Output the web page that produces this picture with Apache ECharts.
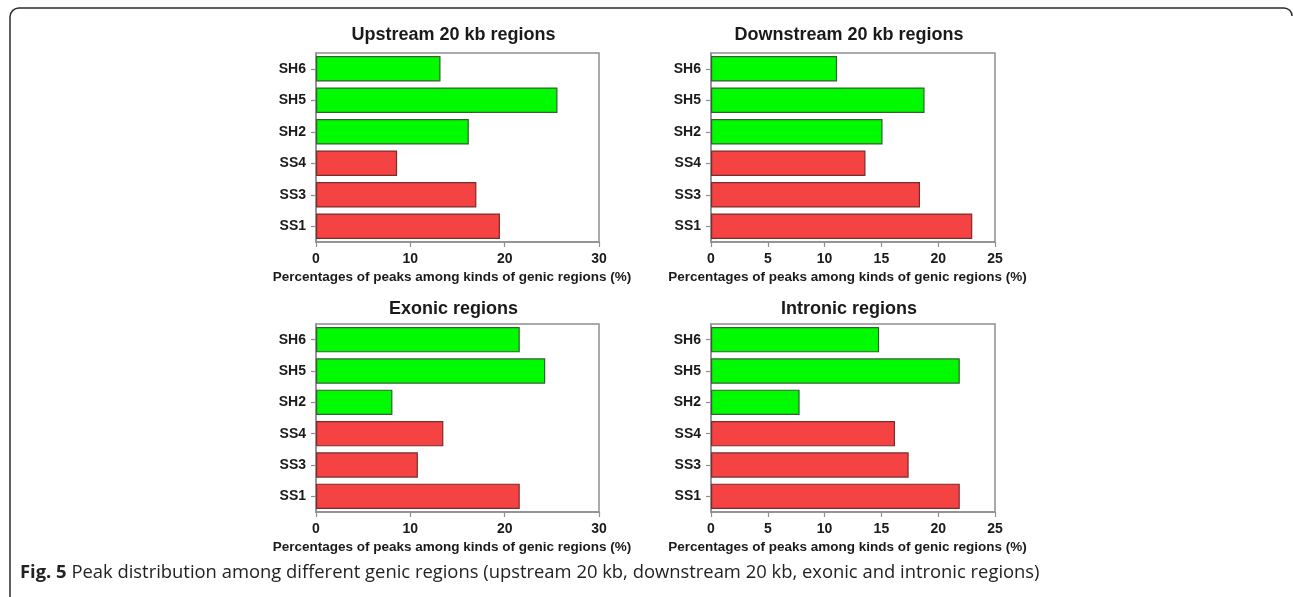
<!DOCTYPE html>
<html>
<head>
<meta charset="utf-8">
<script src="https://cdn.jsdelivr.net/npm/echarts@6/dist/echarts.min.js"></script>
<style>
  html, body { margin: 0; padding: 0; background: #fff; }
  #chart { width: 1293px; height: 597px; }
</style>
</head>
<body>
<div id="chart"></div>
<script>
// Sample categories, bottom to top
const categories = ['SS1', 'SS3', 'SS4', 'SH2', 'SH5', 'SH6'];
// Panel titles
const panelTitles = ['Upstream 20 kb regions', 'Downstream 20 kb regions', 'Exonic regions', 'Intronic regions'];
// Percentages of peaks per sample (SS1, SS3, SS4, SH2, SH5, SH6)
const upstream = [19.5, 17.0, 8.6, 16.2, 25.6, 13.2];
const downstream = [23.0, 18.4, 13.6, 15.1, 18.8, 11.1];
const exonic = [21.6, 10.8, 13.5, 8.1, 24.3, 21.6];
const intronic = [21.9, 17.4, 16.2, 7.8, 21.9, 14.8];
// x-axis ranges: [max, step]
const axisRanges = [[30, 10], [25, 5], [30, 10], [25, 5]];
const axisName = 'Percentages of peaks among kinds of genic regions (%)';
const caption = 'Peak distribution among different genic regions (upstream 20 kb, downstream 20 kb, exonic and intronic regions)';

const panels = [upstream, downstream, exonic, intronic];
const grids = [
  { left: 316, top: 53, width: 283, height: 189 },
  { left: 711, top: 53, width: 284, height: 189 },
  { left: 316, top: 324, width: 283, height: 188 },
  { left: 711, top: 324, width: 284, height: 188 }
];
const titleTops = [26, 26, 300, 300];

const axisGrey = '#8f8f8f';
const textCol = '#1a1a1a';
const font = 'Liberation Sans, Arial, sans-serif';
const frameCol = '#2b2b2b';

function barColor(cat) {
  return cat.startsWith('SS') ? '#f54343' : '#00fa00';
}
function barBorder(cat) {
  return cat.startsWith('SS') ? '#7a2c2c' : '#355e35';
}

const chart = echarts.init(document.getElementById('chart'), null, { renderer: 'canvas' });

const frameStyle = { fill: null, stroke: frameCol, lineWidth: 1.5 };

const option = {
  backgroundColor: '#ffffff',
  animation: false,
  title: panelTitles.map((t, i) => ({
    text: t,
    left: grids[i].left + grids[i].width / 2 - 4,
    top: titleTops[i],
    padding: 0,
    textAlign: 'center',
    textStyle: { fontFamily: font, fontWeight: 'bold', fontSize: 18, color: textCol }
  })),
  grid: grids.map(g => Object.assign({
    show: true, borderColor: axisGrey, borderWidth: 1.5, backgroundColor: '#fff'
  }, g)),
  xAxis: axisRanges.map((r, i) => ({
    type: 'value',
    gridIndex: i,
    min: 0,
    max: r[0],
    interval: r[1],
    name: axisName,
    nameLocation: 'middle',
    nameGap: 28,
    nameTextStyle: { fontFamily: font, fontWeight: 'bold', fontSize: 13.5, color: textCol, padding: [0, 11, 0, 0] },
    axisLine: { show: true, lineStyle: { color: axisGrey, width: 1.5 } },
    axisTick: { show: true, length: 5, lineStyle: { color: axisGrey, width: 1.2 } },
    axisLabel: { fontFamily: font, fontWeight: 'bold', fontSize: 14, color: textCol, margin: 10 },
    splitLine: { show: false }
  })),
  yAxis: panels.map((_, i) => ({
    type: 'category',
    gridIndex: i,
    data: categories,
    axisLine: { show: true, lineStyle: { color: axisGrey, width: 1.5 } },
    axisTick: { show: true, alignWithLabel: true, length: 5, lineStyle: { color: axisGrey, width: 1.2 } },
    axisLabel: { fontFamily: font, fontWeight: 'bold', fontSize: 14, color: textCol, margin: 10 },
    splitLine: { show: false }
  })),
  series: panels.map((vals, i) => ({
    type: 'bar',
    xAxisIndex: i,
    yAxisIndex: i,
    barCategoryGap: '19%',
    data: vals.map((v, k) => ({
      value: v,
      itemStyle: { color: barColor(categories[k]), borderColor: barBorder(categories[k]), borderWidth: 1.2 }
    }))
  })),
  graphic: [
    // page frame: left edge, top edge and rounded corners
    { type: 'line', shape: { x1: 10, y1: 17, x2: 10, y2: 597 }, style: frameStyle },
    { type: 'line', shape: { x1: 19, y1: 8, x2: 1284, y2: 8 }, style: frameStyle },
    { type: 'arc', shape: { cx: 19, cy: 17, r: 9, startAngle: Math.PI, endAngle: Math.PI * 1.5, clockwise: true }, style: frameStyle },
    { type: 'arc', shape: { cx: 1284, cy: 16, r: 8, startAngle: Math.PI * 1.5, endAngle: Math.PI * 2, clockwise: true }, style: frameStyle },
    {
      type: 'text',
      left: 20,
      top: 564,
      style: {
        text: '{b|Fig. 5} ' + caption,
        fontFamily: 'Open Sans, Noto Sans, sans-serif',
        fontSize: 18.4,
        fill: '#222',
        rich: {
          b: { fontFamily: 'Open Sans, Noto Sans, sans-serif', fontSize: 18.4, fontWeight: 'bold', fill: '#222' }
        }
      }
    }
  ]
};

chart.setOption(option);
</script>
</body>
</html>
